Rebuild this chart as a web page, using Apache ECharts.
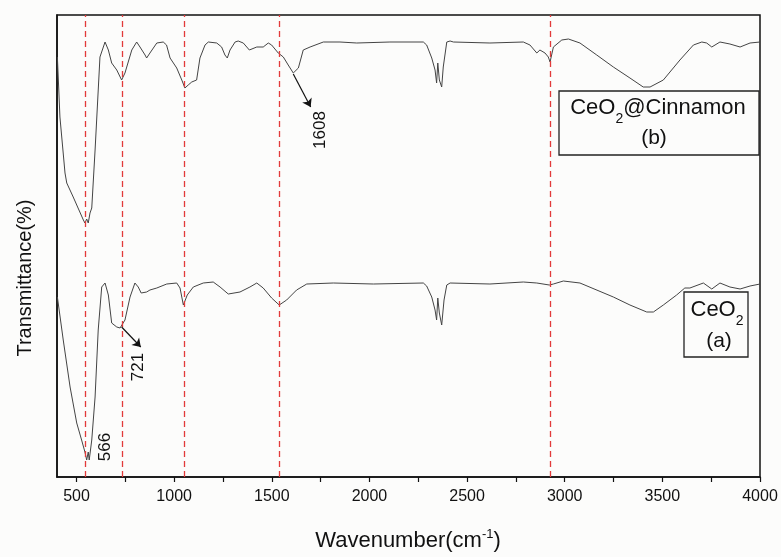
<!DOCTYPE html>
<html>
<head>
<meta charset="utf-8">
<script src="https://cdn.jsdelivr.net/npm/echarts@6/dist/echarts.min.js"></script>
<style>
html,body{margin:0;padding:0;background:#fcfcfb;}
#c{width:781px;height:557px;}
</style>
</head>
<body>
<div id="c"></div>
<script>
// FTIR spectra (transmittance in arbitrary units, curves offset vertically)
const bWave = [402,415,441,450,483,535,543,552,560,569,578,595,620,646,663,680,706,731,748,783,808,825,851,859,876,911,944,961,979,1013,1039,1055,1072,1090,1115,1132,1158,1175,1218,1243,1260,1272,1286,1312,1328,1354,1385,1423,1456,1482,1499,1533,1559,1584,1610,1636,1661,1696,1764,1849,1935,2105,2276,2293,2319,2336,2344,2350,2358,2370,2378,2396,2413,2430,2617,2788,2822,2857,2873,2899,2916,2925,2942,2985,3019,3078,3164,3249,3334,3402,3437,3505,3590,3659,3702,3727,3753,3795,3846,3898,3949,4000];
const bT    = [420,360,304,294,280,257,254,258,254,264,269,327,420,435,427,414,407,397,404,427,435,430,422,419,424,434,435,432,419,409,397,389,392,395,397,419,432,435,434,430,422,419,427,435,436,434,427,430,430,434,432,424,420,412,404,409,427,430,435,435,434,435,435,432,419,407,394,414,397,390,410,435,436,435,434,435,432,424,427,424,420,415,430,437,438,434,422,410,399,390,390,397,417,432,435,434,430,435,433,430,434,435];
const aWave = [402,432,467,501,526,543,552,560,565,578,595,611,629,646,663,680,706,723,731,748,774,799,816,831,859,876,911,962,1013,1030,1047,1055,1067,1098,1149,1200,1235,1277,1337,1388,1423,1456,1499,1538,1576,1627,1679,1815,2020,2276,2293,2319,2336,2344,2350,2358,2370,2382,2396,2413,2617,2788,2857,2921,2925,2942,2993,3078,3249,3334,3420,3454,3505,3573,3615,3641,3710,3753,3795,3846,3898,3949,4000];
const aT    = [180,137,90,54,37,25,17,25,17,37,80,147,190,194,182,154,150,149,147,157,180,194,190,184,185,187,189,193,194,189,172,170,182,190,194,195,190,183,185,190,194,189,179,172,177,187,193,194,193,194,191,180,167,157,179,164,152,177,192,194,193,195,194,192,190,193,196,194,180,172,165,165,172,182,189,189,194,188,194,190,188,191,193];
const refLines = [545, 733, 1054, 1538, 2925];
const xLabels = [500,1000,1500,2000,2500,3000,3500,4000];
const xTicks = [500,750,1000,1250,1500,1750,2000,2250,2500,2750,3000,3250,3500,3750,4000];
const peakLabels = [
  {text:'1608', at:[1747,347]},
  {text:'721',  at:[815,110]},
  {text:'566',  at:[646,30]}
];
const arrows = [
  [[1610,403],[1699,370]],
  [[731,150],[829,130]]
];

const FONT = "'Liberation Sans', Arial, sans-serif";
const bData = bWave.map((w,i)=>[w,bT[i]]);
const aData = aWave.map((w,i)=>[w,aT[i]]);

const ctx = document.createElement('canvas').getContext('2d');
function tw(t,size){ctx.font = size+'px '+FONT; return ctx.measureText(t).width;}
// parts: [text, kind] kind: 'm' main, 's' subscript, 'p' superscript
function richText(parts, cx, cy, size, small, subDy, supDy){
  const widths = parts.map(p=>tw(p[0], p[1]==='m'?size:small));
  const total = widths.reduce((a,b)=>a+b,0);
  let x = cx - total/2;
  const els = [];
  parts.forEach((p,i)=>{
    const isMain = p[1]==='m';
    els.push({type:'text',x:x,y:cy + (p[1]==='s'?subDy:(p[1]==='p'?supDy:0)),silent:true,
      style:{text:p[0],fontSize:isMain?size:small,fill:'#111',fontFamily:FONT,align:'left',verticalAlign:'middle'}});
    x += widths[i];
  });
  return els;
}

const graphics = [
  {type:'text',x:25,y:278,rotation:Math.PI/2,silent:true,
   style:{text:'Transmittance(%)',fontSize:20,fill:'#111',fontFamily:FONT,align:'center',verticalAlign:'middle'}},
  {type:'rect',shape:{x:559,y:91,width:200,height:64},silent:true,style:{fill:'transparent',stroke:'#222',lineWidth:1.3}},
  {type:'text',x:654,y:138,silent:true,
   style:{text:'(b)',fontSize:21,fill:'#111',fontFamily:FONT,align:'center',verticalAlign:'middle'}},
  {type:'rect',shape:{x:684,y:292,width:64,height:65},silent:true,style:{fill:'transparent',stroke:'#222',lineWidth:1.3}},
  {type:'text',x:719,y:341,silent:true,
   style:{text:'(a)',fontSize:21,fill:'#111',fontFamily:FONT,align:'center',verticalAlign:'middle'}}
]
.concat(richText([['CeO','m'],['2','s'],['@Cinnamon','m']], 658, 108, 22, 14, 11, 0))
.concat(richText([['CeO','m'],['2','s']], 717, 310, 22, 14, 11, 0))
.concat(richText([['Wavenumber(cm','m'],['-1','p'],[')','m']], 408, 541, 22, 13, 0, -7));

const chart = echarts.init(document.getElementById('c'));
chart.setOption({
  backgroundColor:'#fcfcfb',
  animation:false,
  textStyle:{fontFamily:FONT},
  grid:{left:57,right:21,top:15,bottom:80,show:true,borderColor:'#111',borderWidth:1.5,backgroundColor:'transparent'},
  xAxis:{
    type:'value',min:400,max:4000,
    axisLine:{show:true,onZero:false,lineStyle:{color:'#111',width:1.5}},
    axisTick:{show:true,length:5,customValues:xTicks,lineStyle:{color:'#111',width:1.2}},
    axisLabel:{customValues:xLabels,fontSize:16,color:'#111',margin:12,fontFamily:FONT,formatter:v=>String(v)},
    splitLine:{show:false}
  },
  yAxis:{
    type:'value',min:0,max:462,
    axisLine:{show:true,lineStyle:{color:'#111',width:1.5}},
    axisTick:{show:false},axisLabel:{show:false},splitLine:{show:false}
  },
  graphic:graphics,
  series:[
    {
      name:'CeO2@Cinnamon (b)',type:'line',data:bData,showSymbol:false,smooth:false,
      lineStyle:{color:'#444',width:1},
      markLine:{
        silent:true,symbol:['none','none'],label:{show:false},
        lineStyle:{color:'#e23a3a',type:[6,4],width:1.3},
        data:refLines.map(v=>({xAxis:v}))
      }
    },
    {
      name:'CeO2 (a)',type:'line',data:aData,showSymbol:false,smooth:false,
      lineStyle:{color:'#444',width:1},
      markLine:{
        silent:true,symbol:['none','arrow'],symbolSize:8,label:{show:false},
        lineStyle:{color:'#111',type:'solid',width:1.2},
        data:arrows.map(a=>[{coord:a[0]},{coord:a[1]}])
      },
      markPoint:{
        silent:true,symbol:'circle',symbolSize:1,itemStyle:{color:'rgba(0,0,0,0)'},
        label:{show:true,position:'inside',rotate:90,fontSize:17,color:'#111',fontFamily:FONT},
        data:peakLabels.map(p=>({coord:p.at,value:p.text,label:{formatter:p.text}}))
      }
    }
  ]
});
</script>
</body>
</html>
